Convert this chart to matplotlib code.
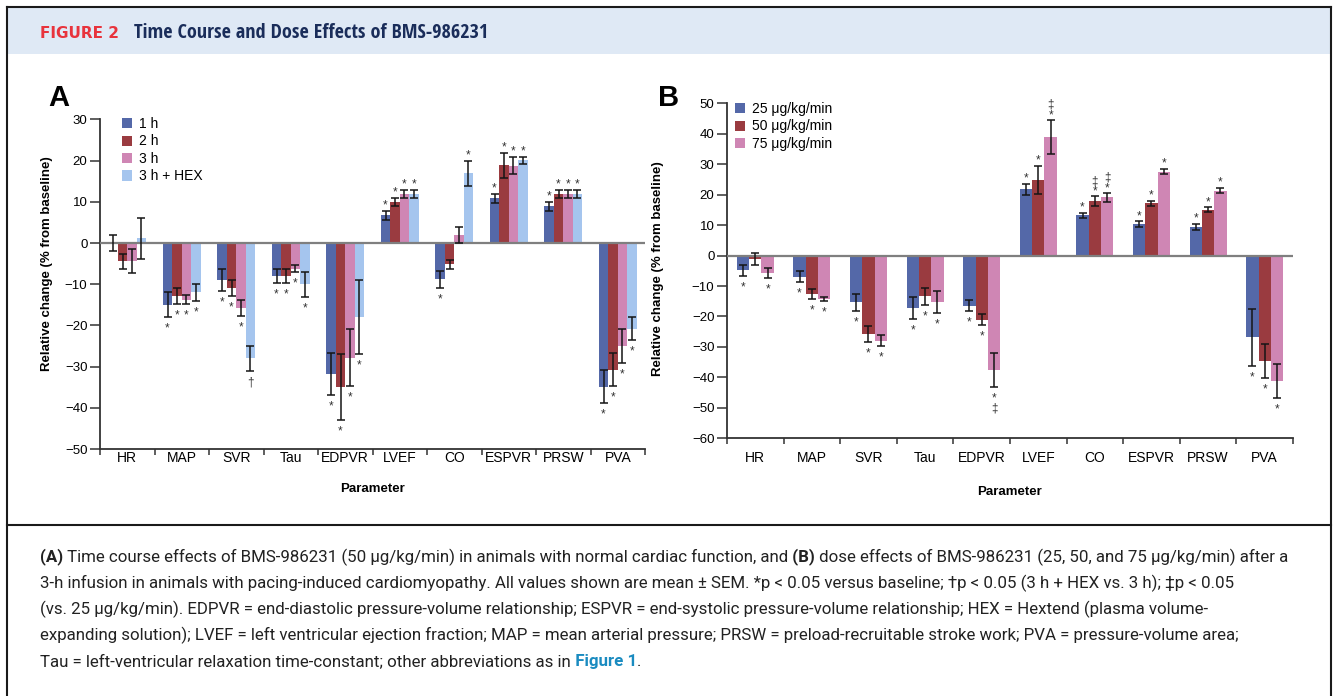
import matplotlib
matplotlib.use("Agg")
import matplotlib.pyplot as plt
import numpy as np
from matplotlib import font_manager
from matplotlib.patches import Rectangle
from matplotlib.lines import Line2D

params = ["HR", "MAP", "SVR", "Tau", "EDPVR", "LVEF", "CO", "ESPVR", "PRSW", "PVA"]

# panel A: time course at 50 ug/kg/min
a_labels = ["1 h", "2 h", "3 h", "3 h + HEX"]
a_1h = [0.0, -15.0, -8.9, -8.0, -31.8, 6.8, -8.8, 10.9, 8.9, -34.9]
a_1h_sem = [2.0, 3.0, 2.7, 1.8, 5.0, 1.1, 2.1, 1.1, 1.1, 4.0]
a_2h = [-4.4, -12.8, -10.9, -8.0, -35.0, 10.0, -5.2, 18.9, 11.9, -30.8]
a_2h_sem = [1.8, 2.0, 2.0, 1.8, 8.0, 1.0, 1.0, 3.0, 1.0, 4.0]
a_3h = [-4.4, -13.8, -15.8, -6.2, -27.8, 11.9, 1.9, 18.8, 11.9, -24.9]
a_3h_sem = [2.9, 1.1, 2.0, 0.8, 7.0, 0.9, 1.9, 2.1, 1.0, 4.1]
a_hex = [1.2, -12.0, -28.0, -10.0, -18.0, 11.9, 16.9, 20.1, 11.9, -20.8]
a_hex_sem = [5.0, 2.1, 3.0, 3.0, 9.0, 0.9, 3.0, 0.9, 1.0, 2.8]
a_1h_mark = ["", "*", "*", "*", "*", "*", "*", "*", "*", "*"]
a_2h_mark = ["", "*", "*", "*", "*", "*", "", "*", "*", "*"]
a_3h_mark = ["", "*", "*", "*", "*", "*", "", "*", "*", "*"]
a_hex_mark = ["", "*", "\u2020", "*", "*", "*", "*", "*", "*", "*"]

# panel B: dose effects after 3 h
b_labels = ["25 \u03bcg/kg/min", "50 \u03bcg/kg/min", "75 \u03bcg/kg/min"]
b_25 = [-4.9, -6.9, -15.4, -17.2, -16.5, 21.8, 13.2, 10.3, 9.4, -26.9]
b_25_sem = [1.8, 1.8, 2.8, 3.7, 1.8, 1.8, 0.9, 0.9, 0.9, 9.5]
b_50 = [-1.2, -12.6, -25.8, -13.4, -21.0, 24.7, 17.9, 17.1, 15.1, -34.6]
b_50_sem = [1.9, 1.6, 2.6, 2.8, 1.7, 4.6, 1.5, 0.8, 0.7, 5.7]
b_75 = [-5.7, -14.3, -27.9, -15.2, -37.7, 39.0, 19.1, 27.6, 21.3, -41.2]
b_75_sem = [1.7, 0.6, 1.7, 3.6, 5.6, 5.6, 1.5, 0.8, 0.8, 5.5]
b_25_mark = ["*"] * 10
b_50_mark = ["", "*", "*", "*", "*", "*", "*\u2021", "*", "*", "*"]
b_75_mark = ["*", "*", "*", "*", "*\u2021", "*\u2021", "*\u2021", "*", "*", "*"]

a_colors = ["#5468a8", "#9a3b40", "#cf86b4", "#a5c5ee"]
b_colors = ["#5468a8", "#9a3b40", "#cf86b4"]

W, H = 1336, 696
plt.rcParams['font.family'] = ['Liberation Sans', 'DejaVu Sans']
names = {f.name for f in font_manager.fontManager.ttflist}
cond = next((n for n in ["Liberation Sans Narrow", "DejaVu Sans Condensed", "Open Sans Condensed"]
             if n in names), "Liberation Sans")


def fx(x):
    return x / W


def fy(y):
    return 1 - y / H


def draw_panel(ax, means, sems, marks, colors, labels, width, ylim, yticks):
    n = len(means)
    x = np.arange(len(params))
    for i in range(n):
        xs = x + (i - (n - 1) / 2) * width
        ax.bar(xs, means[i], width, color=colors[i], label=labels[i], zorder=2)
        ax.errorbar(xs, means[i], yerr=sems[i], fmt='none', ecolor='#151515',
                    elinewidth=1.1, capsize=2.6, capthick=1.1, zorder=4)
        for xi, m, s, mk in zip(xs, means[i], sems[i], marks[i]):
            if not mk:
                continue
            sign = 1 if m > 0 else -1
            # symbol nearest the bar first; stacked ones go in one text block
            lines = list(mk) if sign < 0 else list(mk)[::-1]
            shift = 4.5 * (len(lines) - 1)
            ax.annotate("\n".join(lines), (xi, m + sign * s),
                        xytext=(0, sign * (8.5 + shift) - 3),
                        textcoords='offset pixels', ha='center', va='center',
                        fontsize=8.5, color='#333333', linespacing=0.85, zorder=5)
    ax.axhline(0, color='#7f7f7f', lw=1.6, zorder=3)
    ax.set_xlim(-0.5, len(params) - 0.5)
    ax.set_ylim(*ylim)
    ax.set_yticks(yticks)
    ax.set_xticks(x)
    ax.set_xticklabels(params, fontsize=10)
    ax.set_xticks(np.arange(len(params) + 1) - 0.5, minor=True)
    ax.tick_params(axis='x', which='major', length=0)
    ax.tick_params(axis='x', which='minor', length=4, width=1.1, color='#333333')
    ax.tick_params(axis='y', length=7.5, width=1.1, color='#333333', labelsize=9.5, pad=1.5)
    for s in ['top', 'right']:
        ax.spines[s].set_visible(False)
    for s in ['left', 'bottom']:
        ax.spines[s].set_color('#333333')
        ax.spines[s].set_linewidth(1.3)
    ax.set_xlabel("Parameter", fontsize=9.5, weight='bold')
    ax.set_ylabel("Relative change (% from baseline)", fontsize=9.5, weight='bold')


fig = plt.figure(figsize=(W / 100, H / 100), dpi=100)

# frame and header band
fig.add_artist(Rectangle((fx(7), fy(54)), fx(1331) - fx(7), fy(8) - fy(54),
                         transform=fig.transFigure, facecolor='#dfe9f5', edgecolor='none'))
for xs_, ys_ in [([7, 7], [7, 700]), ([1331, 1331], [7, 700]), ([7, 1331], [7, 7]),
                 ([7, 1331], [525, 525])]:
    fig.add_artist(Line2D([fx(v) for v in xs_], [fy(v) for v in ys_],
                          transform=fig.transFigure, color='#1a1a1a', lw=1.5))
fig.text(fx(40), fy(33), "FIGURE 2", color='#e8333c', fontsize=11, weight='bold',
         va='center', family=['DejaVu Sans'])
fig.text(fx(134), fy(33), "Time Course and Dose Effects of BMS-986231", color='#1a2d5a',
         fontsize=14.5, weight='bold', va='center', family=[cond, 'DejaVu Sans'])

axA = fig.add_axes([fx(100), fy(449), 545 / W, (449 - 119.5) / H])
draw_panel(axA, [a_1h, a_2h, a_3h, a_hex], [a_1h_sem, a_2h_sem, a_3h_sem, a_hex_sem],
           [a_1h_mark, a_2h_mark, a_3h_mark, a_hex_mark], a_colors, a_labels,
           0.174, (-50, 30), np.arange(-50, 31, 10))
axA.tick_params(axis='x', which='major', pad=1.5)
axA.xaxis.set_label_coords(0.5, -0.102)
axA.yaxis.set_label_coords(-0.086, 0.564)
axA.legend(loc='upper left', bbox_to_anchor=(fx(122), fy(117)), bbox_transform=fig.transFigure,
           frameon=False, fontsize=10, handlelength=0.75, handleheight=0.75,
           handletextpad=0.45, labelspacing=0.25, borderpad=0, borderaxespad=0)

axB = fig.add_axes([fx(727), fy(438.3), 566 / W, (438.3 - 103.3) / H])
draw_panel(axB, [b_25, b_50, b_75], [b_25_sem, b_50_sem, b_75_sem],
           [b_25_mark, b_50_mark, b_75_mark], b_colors, b_labels,
           0.218, (-60, 50), np.arange(-60, 51, 10))
axB.tick_params(axis='x', which='major', pad=9)
axB.xaxis.set_label_coords(0.5, -0.143)
axB.yaxis.set_label_coords(-0.111, 0.505)
axB.legend(loc='upper left', bbox_to_anchor=(fx(735), fy(102)), bbox_transform=fig.transFigure,
           frameon=False, fontsize=10, handlelength=0.75, handleheight=0.75,
           handletextpad=0.45, labelspacing=0.25, borderpad=0, borderaxespad=0)

fig.text(fx(48), fy(98), "A", fontsize=21, weight='bold', va='center')
fig.text(fx(658), fy(98), "B", fontsize=21, weight='bold', va='center')

# caption, drawn piece by piece so bold / coloured words line up
ink = '#222222'
caption = [
    [("(A)", 'bold', ink),
     (" Time course effects of BMS-986231 (50 \u03bcg/kg/min) in animals with normal cardiac function, and", 'normal', ink),
     (" (B)", 'bold', ink),
     (" dose effects of BMS-986231 (25, 50, and 75 \u03bcg/kg/min) after a", 'normal', ink)],
    [("3-h infusion in animals with pacing-induced cardiomyopathy. All values shown are mean \u00b1 SEM. "
      "*p < 0.05 versus baseline; \u2020p < 0.05 (3 h + HEX vs. 3 h); \u2021p < 0.05", 'normal', ink)],
    [("(vs. 25 \u03bcg/kg/min). EDPVR = end-diastolic pressure-volume relationship; ESPVR = end-systolic "
      "pressure-volume relationship; HEX = Hextend (plasma volume-", 'normal', ink)],
    [("expanding solution); LVEF = left ventricular ejection fraction; MAP = mean arterial pressure; "
      "PRSW = preload-recruitable stroke work; PVA = pressure-volume area;", 'normal', ink)],
    [("Tau = left-ventricular relaxation time-constant; other abbreviations as in", 'normal', ink),
     (" Figure 1", 'bold', '#1a8bc0'),
     (".", 'normal', ink)],
]
renderer = fig.canvas.get_renderer()


def draw_row(segs, y, size):
    x = 40
    made = []
    for s, wgt, col in segs:
        t = fig.text(fx(x), fy(y), s, fontsize=size, weight=wgt, color=col,
                     va='center', ha='left', family=['Roboto', 'DejaVu Sans'])
        made.append(t)
        x += t.get_window_extent(renderer).width
    return made, x - 40


# first line of the caption spans about 1250 px in the original
probe, w0 = draw_row(caption[0], 557, 11)
for t in probe:
    t.remove()
cap_size = 11 * 1250 / w0
for row, segs in enumerate(caption):
    draw_row(segs, 557 + 26.2 * row, cap_size)

fig.savefig("out.png", dpi=100)
